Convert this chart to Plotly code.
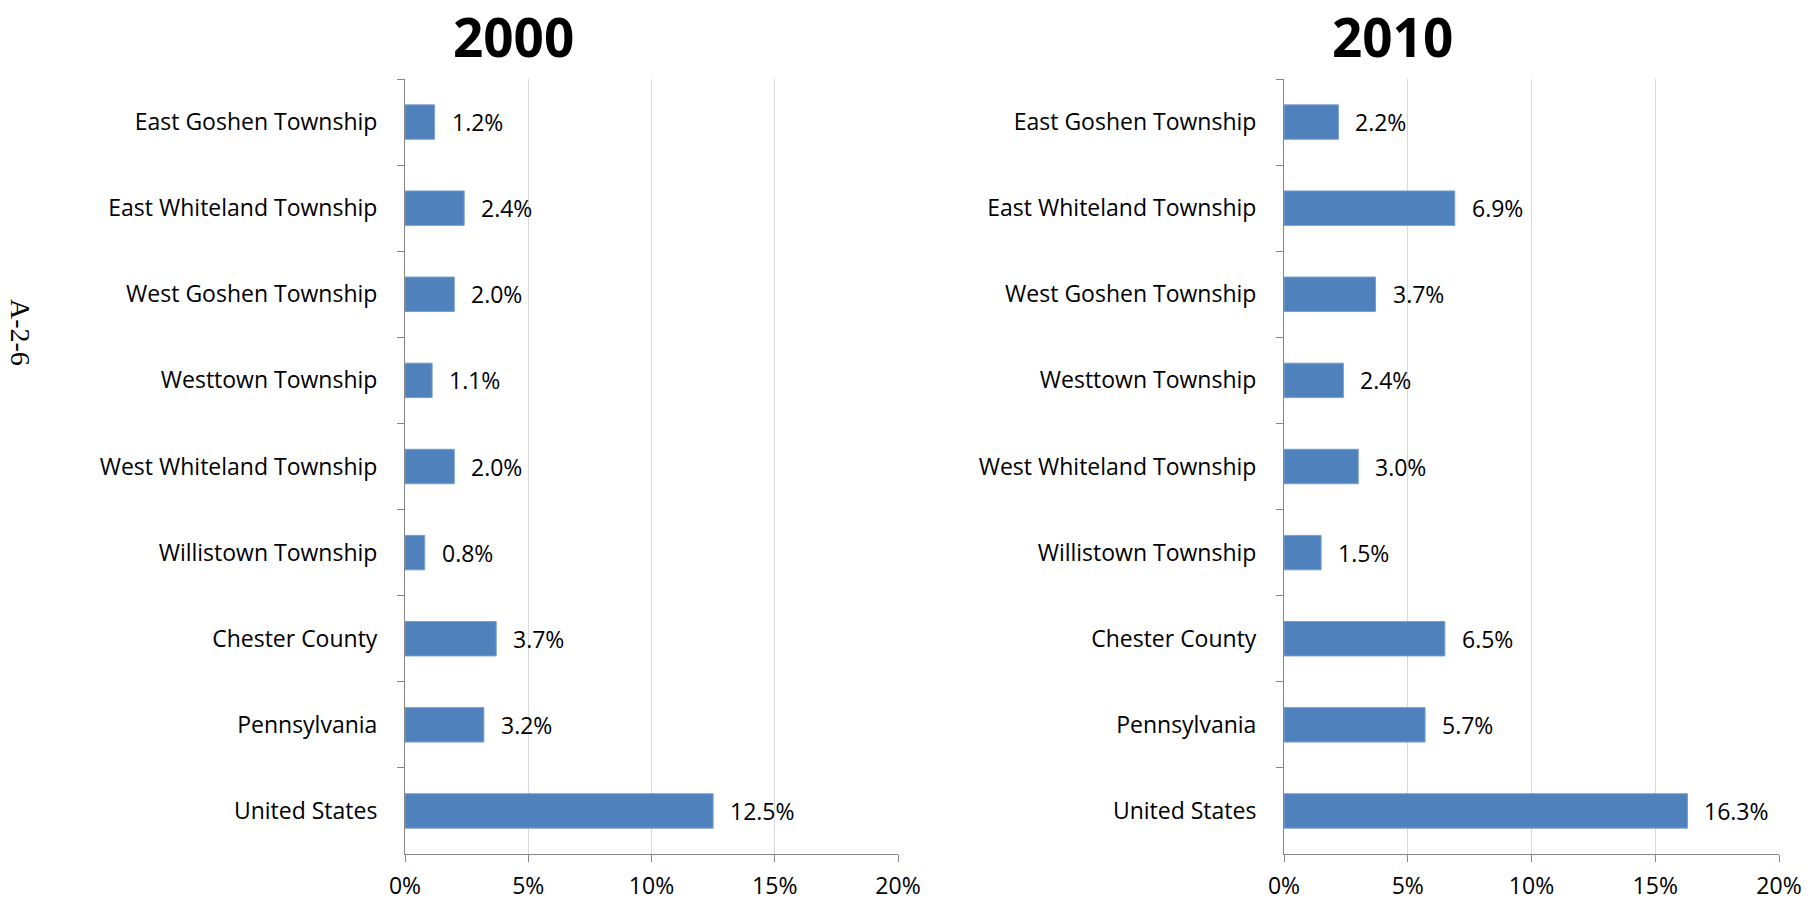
import plotly.graph_objects as go

# categories top -> bottom
places = [
    "East Goshen Township",
    "East Whiteland Township",
    "West Goshen Township",
    "Westtown Township",
    "West Whiteland Township",
    "Willistown Township",
    "Chester County",
    "Pennsylvania",
    "United States",
]
pct_2000 = [1.2, 2.4, 2.0, 1.1, 2.0, 0.8, 3.7, 3.2, 12.5]
pct_2010 = [2.2, 6.9, 3.7, 2.4, 3.0, 1.5, 6.5, 5.7, 16.3]
x_ticks = [0, 5, 10, 15, 20]
x_ticklabels = ["0%", "5%", "10%", "15%", "20%"]

W, H = 1815, 903
BAR = "#4f81bd"
FONT = "Open Sans"
FS = 23

fig = go.Figure()

# (title, values, xaxis, yaxis, x domain in px, title centre px)
panels = [
    ("2000", pct_2000, "x", "y", [405, 898], 513),
    ("2010", pct_2010, "x2", "y2", [1284, 1779], 1392),
]
ydom = [1 - 854 / H, 1 - 79 / H]

for i, (title, vals, xa, ya, xpx, tx) in enumerate(panels):
    fig.add_trace(go.Bar(
        x=vals, y=places, orientation="h",
        marker=dict(color=BAR, line=dict(color="#7a9fcf", width=1)),
        width=0.4, xaxis=xa, yaxis=ya, showlegend=False,
    ))
    for v, p in zip(vals, places):
        fig.add_annotation(
            x=v, y=p, xref=xa, yref=ya, text=f"{v:.1f}%",
            showarrow=False, xanchor="left", xshift=15,
            font=dict(family=FONT, size=FS, color="#000"),
        )
    fig.add_annotation(
        x=tx / W, y=1 - 36 / H, xref="paper", yref="paper",
        text=f"<b>{title}</b>", showarrow=False, xanchor="center", yanchor="middle",
        font=dict(family=FONT, size=53, color="#000"),
    )
    sfx = "" if i == 0 else "2"
    fig.update_layout(**{
        "xaxis" + sfx: dict(
            domain=[xpx[0] / W, xpx[1] / W], range=[0, 20],
            tickvals=x_ticks, ticktext=x_ticklabels,
            showgrid=True, gridcolor="#d9d9d9", gridwidth=1,
            showline=True, linecolor="#868686", linewidth=1,
            ticks="outside", ticklen=7, tickcolor="#868686",
            zeroline=False, anchor=ya, automargin=False, ticklabelstandoff=4,
            tickfont=dict(family=FONT, size=FS, color="#000"),
        ),
        "yaxis" + sfx: dict(
            domain=ydom, categoryorder="array", categoryarray=places,
            autorange="reversed", showline=True, linecolor="#868686", linewidth=1,
            ticks="outside", ticklen=7, tickcolor="#868686", tickson="boundaries",
            showgrid=False, anchor=xa, automargin=False, ticklabelstandoff=22,
            tickfont=dict(family=FONT, size=FS, color="#000"),
        ),
    })

fig.add_annotation(
    x=21 / W, y=1 - 332 / H, xref="paper", yref="paper", text="A-2-6",
    showarrow=False, textangle=90, xanchor="center", yanchor="middle",
    font=dict(family="Liberation Serif, serif", size=28, color="#000"),
)

fig.update_layout(
    width=W, height=H, margin=dict(l=0, r=0, t=0, b=0),
    paper_bgcolor="white", plot_bgcolor="white", bargap=0.6,
)

# drop the default page margin so the figure fills the window exactly
fig.write_html(
    "out.html",
    config={"displayModeBar": False},
    post_script="document.body.style.margin='0';",
)
